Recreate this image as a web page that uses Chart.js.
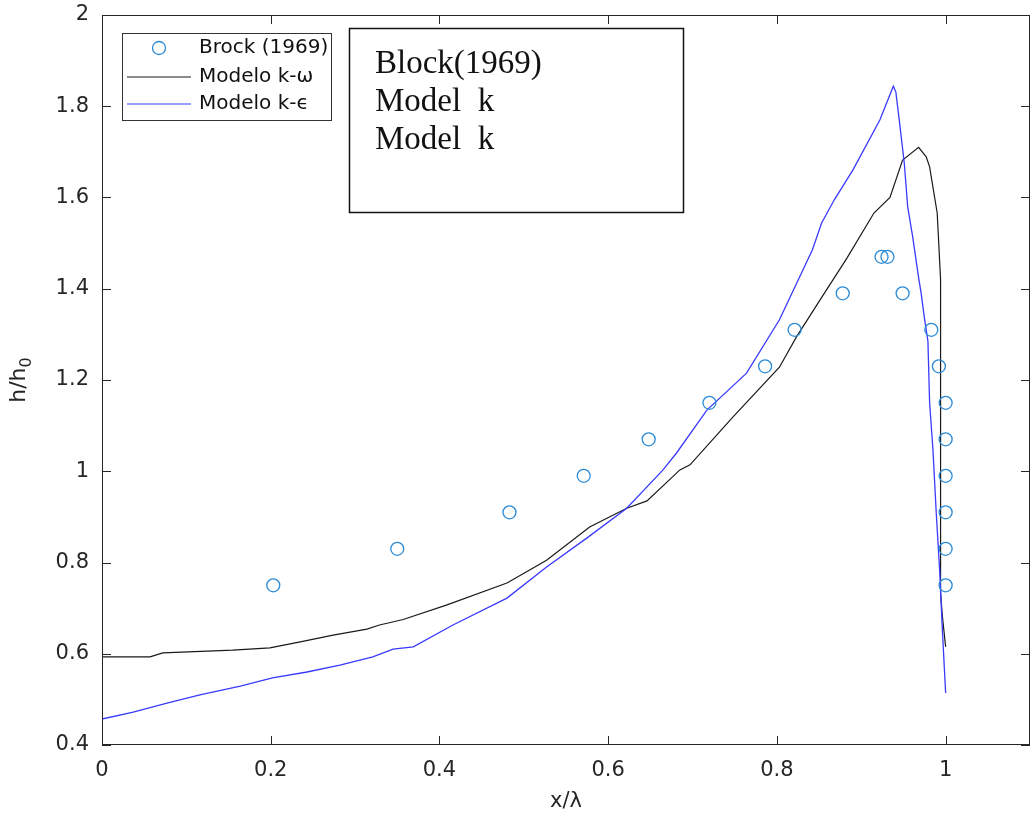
<!DOCTYPE html>
<html>
<head>
<meta charset="utf-8">
<script src="https://cdn.jsdelivr.net/npm/chart.js@4.4.0/dist/chart.umd.min.js"></script>
<style>
  body { margin: 0; background: #fff; }
  canvas { display: block; }
</style>
</head>
<body>
<canvas id="wave-chart" width="1032" height="817"></canvas>
<script>
// data
const brockX = [0.203, 0.35, 0.483, 0.571, 0.648, 0.72, 0.786, 0.821, 0.878, 0.924, 0.931, 0.949, 0.983, 0.992, 1.0, 1.0, 1.0, 1.0, 1.0, 1.0];
const brockY = [0.75, 0.83, 0.91, 0.99, 1.07, 1.15, 1.23, 1.31, 1.39, 1.47, 1.47, 1.39, 1.31, 1.23, 1.15, 1.07, 0.99, 0.91, 0.83, 0.75];

const kwX = [0, 0.057, 0.072, 0.155, 0.199, 0.235, 0.274, 0.314, 0.329, 0.357, 0.409, 0.48, 0.527, 0.578, 0.622, 0.646, 0.685, 0.697, 0.748, 0.803, 0.823, 0.851, 0.883, 0.915, 0.934, 0.949, 0.968, 0.977, 0.981, 0.99, 0.994, 0.994, 0.994, 0.994, 0.996, 1.0];
const kwY = [0.593, 0.593, 0.602, 0.608, 0.613, 0.626, 0.641, 0.654, 0.663, 0.675, 0.707, 0.755, 0.805, 0.878, 0.919, 0.935, 1.003, 1.014, 1.119, 1.228, 1.294, 1.375, 1.467, 1.566, 1.60, 1.682, 1.71, 1.689, 1.667, 1.566, 1.42, 1.35, 1.0, 0.733, 0.685, 0.615];

const keX = [0, 0.037, 0.077, 0.116, 0.164, 0.202, 0.243, 0.282, 0.321, 0.345, 0.369, 0.416, 0.48, 0.527, 0.575, 0.622, 0.665, 0.681, 0.717, 0.764, 0.803, 0.842, 0.853, 0.868, 0.89, 0.922, 0.938, 0.941, 0.945, 0.951, 0.955, 0.961, 0.968, 0.971, 0.975, 0.979, 0.981, 0.985, 0.989, 0.993, 0.996, 1.0];
const keY = [0.457, 0.472, 0.492, 0.51, 0.529, 0.547, 0.56, 0.575, 0.593, 0.61, 0.615, 0.663, 0.722, 0.79, 0.854, 0.919, 1.003, 1.04, 1.134, 1.215, 1.332, 1.485, 1.544, 1.595, 1.66, 1.77, 1.844, 1.831, 1.77, 1.675, 1.58, 1.513, 1.424, 1.39, 1.334, 1.285, 1.15, 1.046, 0.904, 0.78, 0.657, 0.514];

const xTicks = [0, 0.2, 0.4, 0.6, 0.8, 1];
const yTicks = [0.4, 0.6, 0.8, 1, 1.2, 1.4, 1.6, 1.8, 2];

const legendLabels = ['Brock (1969)', 'Modelo k-\u03C9', 'Modelo k-\u03F5'];
const boxLines = ['Block(1969)', 'Model  k', 'Model  k'];

const axisColor = '#262626';
const dotColor = '#2a8ad6';
const blueColor = '#3a3aff';
const blackColor = '#1a1a1a';

function toPoints(xs, ys) {
    return xs.map((x, i) => ({ x: x, y: ys[i] }));
}

// the circle markers make Chart.js keep ~8px free on the right; give it back
const fullWidth = {
    id: 'fullWidth',
    afterLayout(chart) {
        const xs = chart.scales.x;
        const right = chart.width - 2;
        xs.right = right;
        xs.width = right - xs.left;
        xs.configure();
        chart.chartArea.right = right;
        chart.chartArea.width = right - chart.chartArea.left;
    }
};

// box, inward ticks, y label, legend and the overlaid text box
const decorations = {
    id: 'decorations',
    afterDraw(chart) {
        const ctx = chart.ctx;
        const a = chart.chartArea;
        const xs = chart.scales.x;
        const ys = chart.scales.y;
        ctx.save();
        ctx.strokeStyle = axisColor;
        ctx.lineWidth = 1;
        ctx.strokeRect(a.left + 0.5, a.top + 0.5, a.right - a.left - 1, a.bottom - a.top - 1);
        const t = 9;
        ctx.beginPath();
        xTicks.forEach(v => {
            const px = Math.round(xs.getPixelForValue(v)) + 0.5;
            ctx.moveTo(px, a.bottom); ctx.lineTo(px, a.bottom - t);
            ctx.moveTo(px, a.top); ctx.lineTo(px, a.top + t);
        });
        yTicks.forEach(v => {
            const py = Math.round(ys.getPixelForValue(v)) + 0.5;
            ctx.moveTo(a.left, py); ctx.lineTo(a.left + t, py);
            ctx.moveTo(a.right, py); ctx.lineTo(a.right - t, py);
        });
        ctx.stroke();

        // y axis label with a real subscript
        ctx.save();
        ctx.translate(25, (a.top + a.bottom) / 2);
        ctx.rotate(-Math.PI / 2);
        ctx.fillStyle = axisColor;
        ctx.textBaseline = 'alphabetic';
        const main = 'h/h';
        ctx.font = '22px "DejaVu Sans"';
        const w1 = ctx.measureText(main).width;
        ctx.font = '16px "DejaVu Sans"';
        const w2 = ctx.measureText('0').width;
        const x0 = -(w1 + w2) / 2;
        ctx.font = '22px "DejaVu Sans"';
        ctx.fillText(main, x0, 0);
        ctx.font = '16px "DejaVu Sans"';
        ctx.fillText('0', x0 + w1, 6);
        ctx.restore();

        // legend
        ctx.fillStyle = '#fff';
        ctx.fillRect(122, 33, 210, 88);
        ctx.strokeStyle = '#333';
        ctx.strokeRect(122.5, 33.5, 209, 87);
        ctx.font = '20px "DejaVu Sans"';
        ctx.textBaseline = 'middle';
        ctx.fillStyle = '#111';
        const rows = [48, 77, 104];
        ctx.beginPath();
        ctx.arc(159, rows[0], 6.5, 0, Math.PI * 2);
        ctx.strokeStyle = dotColor;
        ctx.lineWidth = 1.3;
        ctx.stroke();
        ctx.lineWidth = 1.2;
        ctx.strokeStyle = blackColor;
        ctx.beginPath(); ctx.moveTo(127, rows[1]); ctx.lineTo(191, rows[1]); ctx.stroke();
        ctx.strokeStyle = blueColor;
        ctx.beginPath(); ctx.moveTo(127, rows[2]); ctx.lineTo(191, rows[2]); ctx.stroke();
        legendLabels.forEach((s, i) => ctx.fillText(s, 199, rows[i]));

        // text box
        ctx.fillStyle = '#fff';
        ctx.fillRect(349, 28, 335, 185);
        ctx.strokeStyle = '#111';
        ctx.lineWidth = 1.5;
        ctx.strokeRect(349.5, 28.5, 334, 184);
        ctx.fillStyle = '#111';
        ctx.font = '33px "Liberation Serif"';
        ctx.textBaseline = 'alphabetic';
        boxLines.forEach((s, i) => ctx.fillText(s, 375, 73 + i * 38));
        ctx.restore();
    }
};

const ctx = document.getElementById('wave-chart').getContext('2d');
const waveChart = new Chart(ctx, {
    type: 'scatter',
    data: {
        datasets: [
            {
                label: legendLabels[0],
                data: toPoints(brockX, brockY),
                pointStyle: 'circle',
                pointRadius: 6.5,
                pointBorderWidth: 1.3,
                pointBorderColor: dotColor,
                pointBackgroundColor: 'rgba(0,0,0,0)',
                showLine: false,
                order: 0,
            },
            {
                label: legendLabels[1],
                data: toPoints(kwX, kwY),
                showLine: true,
                borderColor: blackColor,
                borderWidth: 1.2,
                pointRadius: 0,
                tension: 0,
                order: 2,
            },
            {
                label: legendLabels[2],
                data: toPoints(keX, keY),
                showLine: true,
                borderColor: blueColor,
                borderWidth: 1.3,
                pointRadius: 0,
                tension: 0,
                order: 1,
            },
        ],
    },
    options: {
        responsive: false,
        animation: false,
        layout: { padding: { top: 15, right: 2, left: 0, bottom: 0 } },
        plugins: { legend: { display: false }, tooltip: { enabled: false } },
        scales: {
            x: {
                type: 'linear',
                min: 0,
                max: 1.1,
                grid: { display: false, drawTicks: false },
                border: { display: false },
                afterBuildTicks: s => { s.ticks = xTicks.map(v => ({ value: v })); },
                afterFit: s => { s.height = 72; s.paddingLeft = 0; s.paddingRight = 0; },
                ticks: {
                    padding: 13,
                    color: axisColor,
                    font: { family: 'DejaVu Sans', size: 21 },
                    callback: v => String(v),
                },
                title: {
                    display: true,
                    text: 'x/\u03BB',
                    color: axisColor,
                    font: { family: 'DejaVu Sans', size: 21 },
                    padding: { top: 0, bottom: 3 },
                },
            },
            y: {
                type: 'linear',
                min: 0.4,
                max: 2,
                grid: { display: false, drawTicks: false },
                border: { display: false },
                afterBuildTicks: s => { s.ticks = yTicks.map(v => ({ value: v })); },
                afterFit: s => { s.width = 102; s.paddingTop = 0; s.paddingBottom = 0; },
                ticks: {
                    padding: 13,
                    color: axisColor,
                    font: { family: 'DejaVu Sans', size: 21 },
                    callback: v => String(v),
                },
                title: { display: false },
            },
        },
    },
    plugins: [fullWidth, decorations],
});
</script>
</body>
</html>
